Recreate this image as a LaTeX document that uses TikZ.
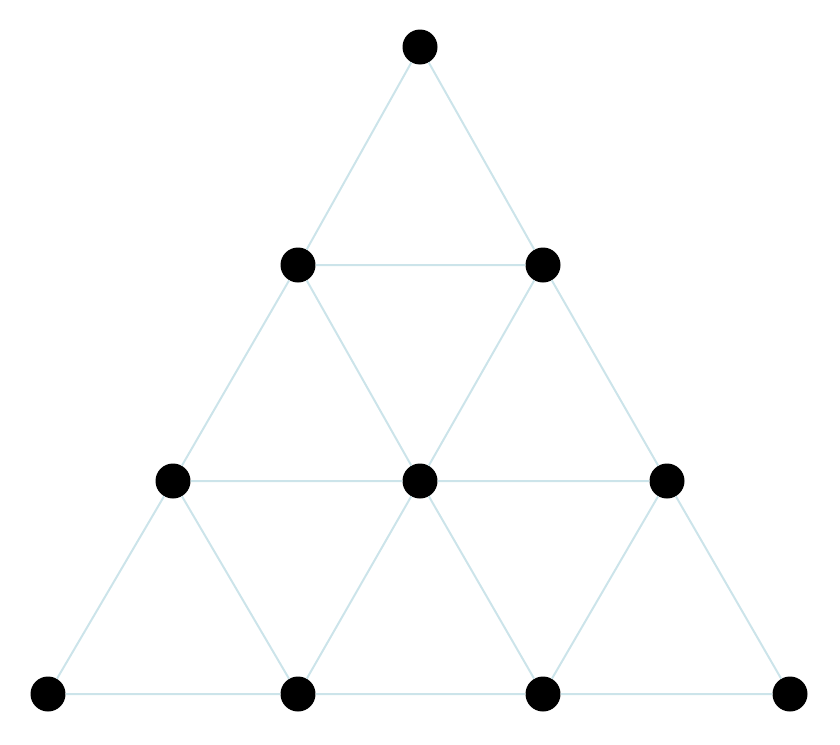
\documentclass[tikz,border=0pt]{standalone}
\definecolor{edgeblue}{HTML}{CCE4EA}
\tikzset{
  dot/.style={circle,fill=black,inner sep=0pt,minimum size=35pt},
  edge/.style={draw=edgeblue,line width=2pt}
}
\begin{document}
\begin{tikzpicture}[x=1pt,y=-1pt]
\useasboundingbox (0,0) rectangle (840,744);
\node[dot] (a) at (420,47) {};
\node[dot] (b1) at (298,265) {};
\node[dot] (b2) at (543,265) {};
\node[dot] (c1) at (173,481) {};
\node[dot] (c2) at (420,481) {};
\node[dot] (c3) at (667,481) {};
\node[dot] (d1) at (48,694) {};
\node[dot] (d2) at (298,694) {};
\node[dot] (d3) at (543,694) {};
\node[dot] (d4) at (790,694) {};
\begin{scope}[on background layer/.style={}]
\end{scope}
\path[edge] (a) -- (b1) (a) -- (b2) (b1) -- (b2)
  (b1) -- (c1) (b1) -- (c2) (b2) -- (c2) (b2) -- (c3)
  (c1) -- (c2) (c2) -- (c3)
  (c1) -- (d1) (c1) -- (d2) (c2) -- (d2) (c2) -- (d3) (c3) -- (d3) (c3) -- (d4)
  (d1) -- (d2) (d2) -- (d3) (d3) -- (d4);
\end{tikzpicture}
\end{document}
